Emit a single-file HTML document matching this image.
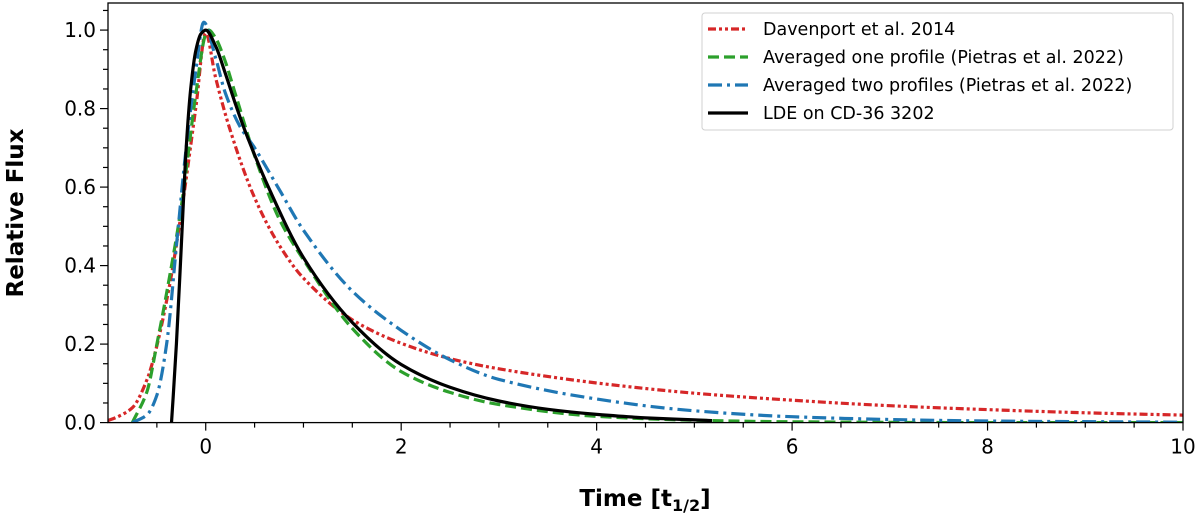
<!DOCTYPE html>
<html><head><meta charset="utf-8"><style>
html,body{margin:0;padding:0;background:#fff;}
svg{display:block;font-family:"DejaVu Sans","Liberation Sans",sans-serif;}
</style></head><body>
<svg id="chart" width="1200" height="518" viewBox="0 0 1200 518" xmlns="http://www.w3.org/2000/svg">
<defs><clipPath id="clip"><rect x="108" y="3" width="1075" height="419.6"/></clipPath></defs>
<g id="plot"></g>
<g id="axes"></g>
<g id="legend"></g>
</svg>
<script>
const xTicks = [0, 2, 4, 6, 8, 10];
const yTicks = [0.0, 0.2, 0.4, 0.6, 0.8, 1.0];
const yTickLabels = ["0.0", "0.2", "0.4", "0.6", "0.8", "1.0"];
const seriesNames = ["Davenport et al. 2014", "Averaged one profile (Pietras et al. 2022)", "Averaged two profiles (Pietras et al. 2022)", "LDE on CD-36 3202"];

const redT = [-1, -0.9, -0.75, -0.6, -0.5, -0.37, -0.25, -0.1, 0, 0.1, 0.25, 0.5, 0.75, 1, 1.5, 2, 2.5, 3, 4, 5, 6, 7, 8, 9, 10];
const redY = [0.005, 0.015, 0.038, 0.11, 0.196, 0.35, 0.535, 0.806, 0.992, 0.88, 0.745, 0.573, 0.453, 0.368, 0.262, 0.202, 0.163, 0.137, 0.101, 0.075, 0.057, 0.043, 0.033, 0.025, 0.019];
const greenT = [-0.75, -0.6, -0.5, -0.4, -0.25, -0.1, 0, 0.03, 0.1, 0.2, 0.3, 0.5, 0.75, 1, 1.5, 2, 2.5, 3, 4, 5, 6, 8, 10];
const greenY = [0, 0.08, 0.2, 0.33, 0.55, 0.84, 0.99, 1.0, 0.98, 0.92, 0.84, 0.68, 0.52, 0.415, 0.24, 0.13, 0.077, 0.046, 0.016, 0.006, 0.002, 0.0, 0.0];
const blueT = [-0.75, -0.6, -0.5, -0.4, -0.3, -0.2, -0.1, -0.02, 0.1, 0.2, 0.35, 0.5, 0.75, 1, 1.5, 2, 2.5, 3, 4, 5, 6, 7, 8, 10];
const blueY = [0, 0.02, 0.07, 0.2, 0.45, 0.7, 0.9, 1.02, 0.93, 0.84, 0.755, 0.70, 0.595, 0.49, 0.335, 0.235, 0.16, 0.11, 0.06, 0.03, 0.015, 0.008, 0.004, 0.001];
const blackT = [-0.35, -0.3, -0.25, -0.2, -0.15, -0.1, -0.05, 0, 0.1, 0.2, 0.3, 0.4, 0.65, 1, 1.5, 2, 2.5, 3, 3.5, 4, 4.5, 5, 5.18];
const blackY = [0, 0.2, 0.45, 0.7, 0.86, 0.95, 0.99, 1.0, 0.96, 0.89, 0.815, 0.745, 0.595, 0.42, 0.255, 0.148, 0.09, 0.055, 0.034, 0.021, 0.012, 0.007, 0.005];

const NS = "http://www.w3.org/2000/svg";
const L = 108, R = 1183, T = 3, B = 422.6;
const xMin = -1.0, xMax = 10, yMin = 0, yMax = 1.069;
function sx(v){ return L + (v - xMin) / (xMax - xMin) * (R - L); }
function sy(v){ return B - (v - yMin) / (yMax - yMin) * (B - T); }
function mk(tag, attrs, parent){ const e = document.createElementNS(NS, tag); for (const k in attrs) e.setAttribute(k, attrs[k]); parent.appendChild(e); return e; }

function monoPath(xs, ys){
  const n = xs.length, m = [], d = [];
  for (let i = 0; i < n - 1; i++) d.push((ys[i+1]-ys[i])/(xs[i+1]-xs[i]));
  m[0] = d[0]; m[n-1] = d[n-2];
  for (let i = 1; i < n - 1; i++) m[i] = (d[i-1]*d[i] <= 0) ? 0 : 2/(1/d[i-1]+1/d[i]);
  let p = 'M' + xs[0].toFixed(1) + ',' + ys[0].toFixed(1);
  for (let i = 0; i < n - 1; i++) {
    const h = (xs[i+1]-xs[i])/3;
    p += 'C' + (xs[i]+h).toFixed(1) + ',' + (ys[i]+m[i]*h).toFixed(1) + ' ' + (xs[i+1]-h).toFixed(1) + ',' + (ys[i+1]-m[i+1]*h).toFixed(1) + ' ' + xs[i+1].toFixed(1) + ',' + ys[i+1].toFixed(1);
  }
  return p;
}

const plot = document.getElementById('plot');
const axes = document.getElementById('axes');
const legend = document.getElementById('legend');

const styles = [
  {t: redT, y: redY, c: '#d62728', d: '8,3,3,3,3,3', n: 'davenport-line'},
  {t: greenT, y: greenY, c: '#2ca02c', d: '11,5', n: 'one-profile-line'},
  {t: blueT, y: blueY, c: '#1f77b4', d: '14,5,3,5', n: 'two-profiles-line'},
  {t: blackT, y: blackY, c: '#000000', d: '', n: 'lde-line'}
];
styles.forEach(s => {
  const d = monoPath(s.t.map(sx), s.y.map(sy));
  const p = mk('path', {d: d, fill: 'none', stroke: s.c, 'stroke-width': 3.2, 'stroke-linejoin': 'round', 'clip-path': 'url(#clip)'}, plot);
  if (s.d) p.setAttribute('stroke-dasharray', s.d);
  
  
});

const fr = mk('rect', {x: L, y: T, width: R - L, height: B - T, fill: 'none', stroke: '#000', 'stroke-width': 1.3}, axes);



for (let v = -0.5; v <= 10.001; v += 0.5) {
  const major = xTicks.some(m => Math.abs(m - v) < 1e-6);
  const tk = mk('line', {x1: sx(v), x2: sx(v), y1: B, y2: B + (major ? 8 : 5), stroke: '#000', 'stroke-width': 1.2}, axes);
  
  
}
xTicks.forEach(v => {
  const t = mk('text', {x: sx(v), y: B + 31, 'text-anchor': 'middle', 'font-size': 20, fill: '#000'}, axes);
  t.textContent = String(v);
  
  
});
for (let v = 0; v <= 1.0501; v += 0.05) {
  const major = yTicks.some(m => Math.abs(m - v) < 1e-6);
  const tk = mk('line', {x1: L - (major ? 8 : 5), x2: L, y1: sy(v), y2: sy(v), stroke: '#000', 'stroke-width': 1.2}, axes);
  
  
}
yTicks.forEach((v, i) => {
  const t = mk('text', {x: L - 12, y: sy(v) + 7, 'text-anchor': 'end', 'font-size': 20, fill: '#000'}, axes);
  t.textContent = yTickLabels[i];
  
  
});
const xt = mk('text', {x: 645, y: 506, 'text-anchor': 'middle', 'font-size': 23, 'font-weight': 'bold', fill: '#000'}, axes);
xt.innerHTML = 'Time [t<tspan font-size="16" dy="5">1/2</tspan><tspan dy="-5">]</tspan>';


const yt = mk('text', {x: 0, y: 0, 'text-anchor': 'middle', 'font-size': 23, 'font-weight': 'bold', fill: '#000', transform: 'translate(23,213) rotate(-90)'}, axes);
yt.textContent = 'Relative Flux';



const lb = mk('rect', {x: 702, y: 13, width: 471, height: 117, rx: 3, fill: '#fff', 'fill-opacity': 0.8, stroke: '#d0d0d0', 'stroke-width': 1}, legend);


styles.forEach((s, i) => {
  const y = 29 + i * 28;
  const g = mk('g', {}, legend);
  
  
  const ln = mk('line', {x1: 708, x2: 748, y1: y, y2: y, stroke: s.c, 'stroke-width': 3.2}, g);
  if (s.d) ln.setAttribute('stroke-dasharray', s.d);
  
  
  const tx = mk('text', {x: 763, y: y + 6, 'font-size': 17.5, fill: '#000'}, g);
  tx.textContent = seriesNames[i];
  
  
});
</script>
</body></html>
